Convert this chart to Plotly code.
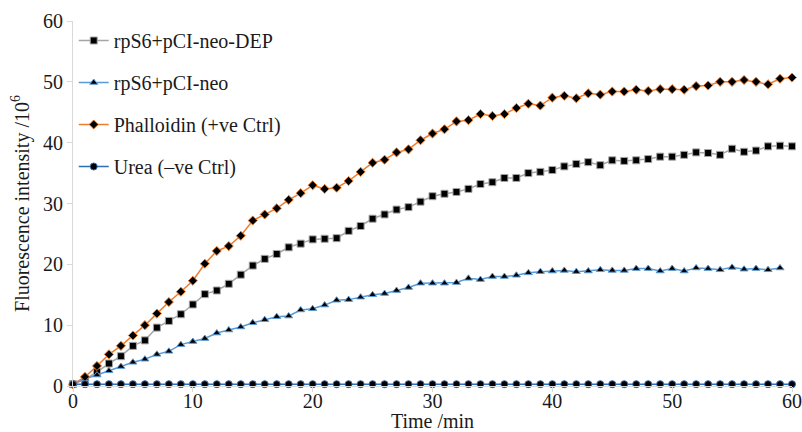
import plotly.graph_objects as go

time_min = list(range(0, 61))

dep = [0.3, 1.1, 2.3, 3.7, 4.9, 6.6, 7.5, 9.6, 10.7, 11.8, 13.4, 15.1, 15.7, 16.8, 18.3, 19.8,
       20.9, 21.7, 22.8, 23.4, 24.1, 24.2, 24.3, 25.5, 26.3, 27.5, 28.2, 29.0, 29.4, 30.3,
       31.2, 31.6, 31.9, 32.4, 33.2, 33.5, 34.2, 34.2, 35.0, 35.2, 35.5, 36.1, 36.5, 36.8,
       36.3, 37.1, 37.0, 37.1, 37.3, 37.7, 37.7, 38.0, 38.4, 38.3, 38.0, 39.0, 38.5, 38.7,
       39.4, 39.5, 39.4]

neo_time = list(range(0, 60))
neo = [0.3, 1.2, 1.8, 2.5, 3.2, 3.9, 4.4, 5.2, 5.7, 6.8, 7.3, 7.8, 8.7, 9.2, 9.7, 10.4,
       10.9, 11.4, 11.5, 12.5, 12.7, 13.3, 14.1, 14.2, 14.6, 15.0, 15.2, 15.7, 16.2, 16.9,
       16.9, 16.9, 17.0, 17.7, 17.5, 18.0, 18.0, 18.2, 18.6, 18.8, 18.9, 19.0, 18.8, 18.9,
       19.1, 19.0, 19.0, 19.3, 19.3, 18.9, 19.3, 18.9, 19.4, 19.3, 19.1, 19.5, 19.2, 19.3,
       19.1, 19.4]

phalloidin = [0.3, 1.5, 3.3, 5.2, 6.6, 8.3, 10.0, 11.9, 13.8, 15.5, 17.3, 20.1, 22.2, 23.0,
              24.7, 27.2, 28.2, 29.2, 30.6, 31.7, 33.0, 32.4, 32.6, 33.7, 35.2, 36.7, 37.2,
              38.4, 38.9, 40.4, 41.5, 42.2, 43.5, 43.7, 44.7, 44.4, 44.7, 45.7, 46.4, 46.1,
              47.4, 47.7, 47.3, 48.1, 47.9, 48.4, 48.4, 48.7, 48.5, 48.8, 48.8, 48.7, 49.3,
              49.4, 50.0, 50.0, 50.3, 50.0, 49.6, 50.5, 50.7]

urea = [0.3] * 61

names = ["rpS6+pCI-neo-DEP", "rpS6+pCI-neo", "Phalloidin (+ve Ctrl)", "Urea (\u2013ve Ctrl)"]
line_colors = ["#A5A5A5", "#5B9BD5", "#ED7D31", "#2F6EBA"]
symbols = ["square", "triangle-up", "diamond", "circle"]
sizes = [7, 7, 7, 7]

series = [(time_min, dep), (neo_time, neo), (time_min, phalloidin), (time_min, urea)]

fig = go.Figure()
for i, (xs, ys) in enumerate(series):
    fig.add_trace(go.Scatter(
        x=xs, y=ys, name=names[i], mode="lines+markers",
        line=dict(color=line_colors[i], width=1.5),
        marker=dict(symbol=symbols[i], size=sizes[i], color="black",
                    line=dict(color=line_colors[i], width=1)),
        cliponaxis=False, legendgroup=str(i),
    ))

font_family = "Liberation Serif, Times New Roman, serif"
fig.update_layout(
    width=802, height=432,
    margin=dict(l=73, r=10, t=13, b=46),
    paper_bgcolor="white", plot_bgcolor="white",
    font=dict(family=font_family, size=20, color="#1a1a1a"),
    showlegend=True,
    legend=dict(x=0.001, y=1.0, xanchor="left", yanchor="top",
                font=dict(size=20, family=font_family, color="#1a1a1a"),
                bgcolor="rgba(0,0,0,0)", tracegroupgap=13, itemwidth=30,
                traceorder="grouped"),
    xaxis=dict(range=[0, 60], tickvals=[0, 10, 20, 30, 40, 50, 60],
               showline=True, linecolor="#D9D9D9", linewidth=1,
               ticks="outside", ticklen=5, tickcolor="#D9D9D9",
               showgrid=False, zeroline=False, automargin=False,
               ticklabelstandoff=-8, ticklabeloverflow="allow",
               title=dict(text="Time /min", font=dict(size=20)),
               tickfont=dict(size=20)),
    yaxis=dict(range=[0, 60], tickvals=[0, 10, 20, 30, 40, 50, 60],
               showline=True, linecolor="#D9D9D9", linewidth=1,
               ticks="outside", ticklen=5, tickcolor="#D9D9D9",
               showgrid=False, zeroline=False, automargin=True,
               title=dict(text="Fluorescence intensity /10<sup>6</sup>",
                          font=dict(size=20), standoff=8),
               tickfont=dict(size=20)),
)

fig.write_html("out.html", config={"displayModeBar": False})

# remove the browser's default body margin so the figure sits at the page origin
with open("out.html", "r", encoding="utf-8") as f:
    html = f.read()
html = html.replace("<body>", '<body style="margin:0;padding:0">', 1)
with open("out.html", "w", encoding="utf-8") as f:
    f.write(html)
